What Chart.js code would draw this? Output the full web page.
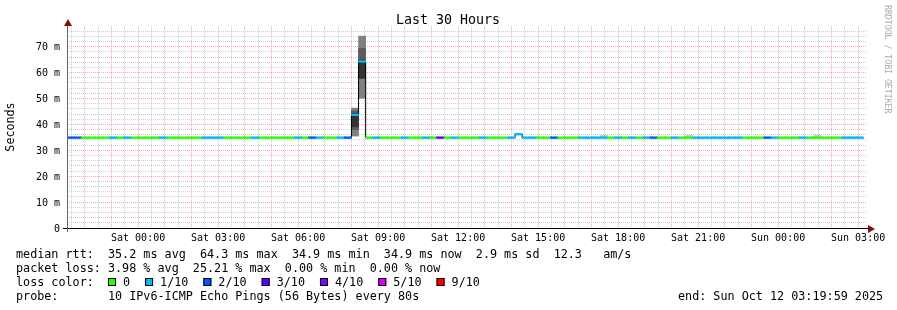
<!DOCTYPE html>
<html>
<head>
<meta charset="utf-8">
<title>Last 30 Hours</title>
<script src="https://cdn.jsdelivr.net/npm/chart.js@4.4.1/dist/chart.umd.min.js"></script>
<style>
    html, body { margin: 0; padding: 0; background: #ffffff; }
    #wrap { width: 897px; height: 310px; }
</style>
</head>
<body>
<div id="wrap"><canvas id="rtt-chart" width="897" height="310"></canvas></div>
<script>
// one step = 16 minutes, window starts Fri 21:20 and is 1800 minutes long
const STEP_MIN = 16;

// median rtt per step, in ms
const medianMs = [
    34.9, 34.9, 34.9, 34.9, 34.9, 34.9, 34.9, 34.9, 34.9, 34.9,
    34.9, 34.9, 34.9, 34.9, 34.9, 34.9, 34.9, 34.9, 34.9, 34.9,
    34.9, 34.9, 34.9, 34.9, 34.9, 34.9, 34.9, 34.9, 34.9, 34.9,
    34.9, 34.9, 34.9, 34.9, 34.9, 34.9, 34.9, 34.9, 34.9, 34.9,
    43.7, 64.3, 34.9, 34.9, 34.9, 34.9, 34.9, 34.9, 34.9, 34.9,
    34.9, 34.9, 34.9, 34.9, 34.9, 34.9, 34.9, 34.9, 34.9, 34.9,
    34.9, 34.9, 34.9, 36.2, 34.9, 34.9, 34.9, 34.9, 34.9, 34.9,
    34.9, 34.9, 34.9, 34.9, 34.9, 34.9, 34.9, 34.9, 34.9, 34.9,
    34.9, 34.9, 34.9, 34.9, 34.9, 34.9, 34.9, 34.9, 34.9, 34.9,
    34.9, 34.9, 34.9, 34.9, 34.9, 34.9, 34.9, 34.9, 34.9, 34.9,
    34.9, 34.9, 34.9, 34.9, 34.9, 34.9, 34.9, 34.9, 34.9, 34.9,
    34.9, 34.9
];

// loss class per step (index into lossColors)
const lossClass = [
    2, 2, 0, 0, 0, 0, 1, 0, 1, 0,
    0, 0, 0, 1, 0, 0, 0, 0, 0, 1,
    1, 1, 0, 0, 0, 0, 1, 0, 0, 0,
    0, 0, 1, 0, 2, 1, 0, 0, 1, 2,
    1, 1, 0, 1, 0, 0, 0, 1, 0, 0,
    1, 0, 3, 0, 1, 0, 0, 0, 1, 0,
    0, 0, 1, 1, 1, 1, 0, 0, 2, 0,
    0, 0, 1, 1, 1, 1, 0, 1, 0, 1,
    0, 1, 2, 0, 0, 1, 0, 0, 1, 1,
    1, 1, 1, 1, 1, 0, 0, 0, 2, 1,
    0, 0, 0, 1, 0, 0, 0, 0, 0, 1,
    1, 1
];

const lossColors = ['#26ff00', '#00b8ff', '#0059ff', '#5e00ff', '#7e00ff', '#dd00ff', '#ff0000'];
const lossLabels = ['0', '1/10', '2/10', '3/10', '4/10', '5/10', '9/10'];

// smoke (spread of the pings) where it shows above the median line
const smokeStep = [40, 41, 75, 87, 105];
const smokeOuter = [[35.5, 46.3], [50.1, 74.1], [34.9, 35.8], [34.9, 35.8], [34.9, 35.9]];
const smokeMiddle = [[38.0, 45.2], [57.8, 69.4], null, null, null];
const smokeInner = [[39.1, 44.3], [57.8, 64.9], null, null, null];

// x axis labels (minutes after window start)
const timeTickMinutes = [160, 340, 520, 700, 880, 1060, 1240, 1420, 1600, 1780];
const timeTickLabels = ['Sat 00:00', 'Sat 03:00', 'Sat 06:00', 'Sat 09:00', 'Sat 12:00',
    'Sat 15:00', 'Sat 18:00', 'Sat 21:00', 'Sun 00:00', 'Sun 03:00'];

const legendLines = [
    'median rtt:  35.2 ms avg  64.3 ms max  34.9 ms min  34.9 ms now  2.9 ms sd  12.3   am/s',
    'packet loss: 3.98 % avg  25.21 % max  0.00 % min  0.00 % now'
];
const probeText = 'probe:       10 IPv6-ICMP Echo Pings (56 Bytes) every 80s';
const endText = 'end: Sun Oct 12 03:19:59 2025';

const MONO = '"DejaVu Sans Mono", monospace';
const GRID_MINOR = 'rgba(140,140,140,0.42)';
const GRID_MAJOR = 'rgba(255,0,0,0.33)';

function smokeData(ranges) {
    const out = [];
    ranges.forEach((r, k) => {
        if (r) out.push({ x: smokeStep[k] * STEP_MIN + STEP_MIN / 2, y: r });
    });
    return out;
}

const decor = {
    id: 'decor',
    afterDraw(chart) {
        const ctx = chart.ctx;
        const area = chart.chartArea;
        ctx.save();

        // title
        ctx.fillStyle = '#000';
        ctx.font = '13.3px ' + MONO;
        ctx.textAlign = 'center';
        ctx.textBaseline = 'alphabetic';
        ctx.fillText('Last 30 Hours', 448, 24);

        // axes with arrows
        ctx.lineWidth = 1;
        ctx.strokeStyle = '#000';
        ctx.beginPath();
        ctx.moveTo(63, Math.round(area.bottom) + 0.5);
        ctx.lineTo(869, Math.round(area.bottom) + 0.5);
        ctx.stroke();
        ctx.strokeStyle = '#666';
        ctx.beginPath();
        ctx.moveTo(Math.round(area.left) + 0.5, 232);
        ctx.lineTo(Math.round(area.left) + 0.5, 22);
        ctx.stroke();
        ctx.fillStyle = '#7f1010';
        ctx.beginPath();
        ctx.moveTo(868, 225);
        ctx.lineTo(875, 229);
        ctx.lineTo(868, 233);
        ctx.closePath();
        ctx.fill();
        ctx.beginPath();
        ctx.moveTo(64, 26);
        ctx.lineTo(68, 19);
        ctx.lineTo(72, 26);
        ctx.closePath();
        ctx.fill();

        // rrdtool credit
        ctx.save();
        ctx.translate(883, 5);
        ctx.rotate(Math.PI / 2);
        ctx.fillStyle = '#aaaaaa';
        ctx.font = '8.2px ' + MONO;
        ctx.textAlign = 'left';
        ctx.textBaseline = 'bottom';
        ctx.fillText('RRDTOOL / TOBI OETIKER', 0, 0);
        ctx.restore();

        // legend
        ctx.fillStyle = '#000';
        ctx.font = '11.76px ' + MONO;
        ctx.textAlign = 'left';
        ctx.textBaseline = 'alphabetic';
        ctx.fillText(legendLines[0], 16, 258);
        ctx.fillText(legendLines[1], 16, 272);
        ctx.fillText('loss color:', 16, 286);
        let x = 108;
        lossLabels.forEach((lab, k) => {
            ctx.fillStyle = lossColors[k];
            ctx.fillRect(x, 278, 8, 8);
            ctx.strokeStyle = '#000';
            ctx.strokeRect(x + 0.5, 278.5, 7, 7);
            ctx.fillStyle = '#000';
            ctx.fillText(lab, x + 15, 286);
            x += 15 + ctx.measureText(lab).width + 15;
        });
        ctx.fillText(probeText, 16, 300);
        ctx.fillText(endText, 678, 300);
        ctx.restore();
    }
};

const lastIdx = medianMs.length - 1;

new Chart(document.getElementById('rtt-chart'), {
    type: 'bar',
    data: {
        datasets: [
            {
                label: 'median',
                data: medianMs.map((v, i) => ({ x: i * STEP_MIN + STEP_MIN / 2, y: [v - 0.33, v + 0.33] })),
                backgroundColor: lossClass.map(k => lossColors[k]),
                borderWidth: 0,
                grouped: false,
                barPercentage: 1,
                categoryPercentage: 1,
                order: 0
            },
            {
                label: 'median step',
                type: 'line',
                data: medianMs.map((v, i) => ({ x: i * STEP_MIN, y: v }))
                    .concat([{ x: medianMs.length * STEP_MIN, y: medianMs[lastIdx] }]),
                stepped: 'before',
                borderColor: '#000',
                borderWidth: 1,
                pointRadius: 0,
                fill: false,
                order: 1
            },
            {
                label: 'smoke inner',
                data: smokeData(smokeInner),
                backgroundColor: '#333333',
                borderWidth: 0,
                grouped: false,
                barPercentage: 1,
                categoryPercentage: 1,
                order: 2
            },
            {
                label: 'smoke middle',
                data: smokeData(smokeMiddle),
                backgroundColor: '#5c5c5c',
                borderWidth: 0,
                grouped: false,
                barPercentage: 1,
                categoryPercentage: 1,
                order: 3
            },
            {
                label: 'smoke outer',
                data: smokeData(smokeOuter),
                backgroundColor: smokeOuter.map(r => (r[1] - r[0] > 2 ? '#808080' : '#c8c8c8')),
                borderWidth: 0,
                grouped: false,
                barPercentage: 1,
                categoryPercentage: 1,
                order: 4
            }
        ]
    },
    options: {
        responsive: false,
        animation: false,
        devicePixelRatio: 1,
        layout: { padding: { left: 0, right: 30, top: 26, bottom: 0 } },
        plugins: {
            legend: { display: false },
            tooltip: { enabled: false }
        },
        scales: {
            x: {
                type: 'linear',
                min: 0,
                max: 1800,
                offset: false,
                afterBuildTicks: (axis) => {
                    const ticks = [];
                    for (let m = 10; m <= 1780; m += 30) ticks.push({ value: m });
                    axis.ticks = ticks;
                },
                afterFit: (axis) => { axis.height = 82; },
                grid: {
                    offset: false,
                    drawTicks: false,
                    lineWidth: 1,
                    color: (c) => (c.tick && (c.tick.value - 40) % 60 === 0 ? GRID_MAJOR : GRID_MINOR)
                },
                border: { display: false, dash: [1, 1] },
                ticks: {
                    autoSkip: false,
                    maxRotation: 0,
                    padding: 4,
                    color: '#000',
                    font: { family: MONO, size: 10 },
                    callback: (value) => {
                        const k = timeTickMinutes.indexOf(value);
                        return k >= 0 ? timeTickLabels[k] : '';
                    }
                }
            },
            y: {
                type: 'linear',
                min: 0,
                max: 78,
                afterBuildTicks: (axis) => {
                    const ticks = [];
                    for (let v = 0; v <= 76; v += 2) ticks.push({ value: v });
                    axis.ticks = ticks;
                },
                afterFit: (axis) => { axis.width = 67; },
                grid: {
                    drawTicks: false,
                    lineWidth: 1,
                    color: (c) => (c.tick && c.tick.value % 10 === 0 ? GRID_MAJOR : GRID_MINOR)
                },
                border: { display: false, dash: [1, 1] },
                ticks: {
                    autoSkip: false,
                    padding: 7,
                    labelOffset: 1,
                    color: '#000',
                    font: { family: MONO, size: 10 },
                    callback: (value) => (value === 0 ? '0' : (value % 10 === 0 ? value + ' m' : ''))
                },
                title: {
                    display: true,
                    text: 'Seconds',
                    color: '#000',
                    font: { family: MONO, size: 11.7 },
                    padding: { top: 4, bottom: 0 }
                }
            }
        }
    },
    plugins: [decor]
});
</script>
</body>
</html>
